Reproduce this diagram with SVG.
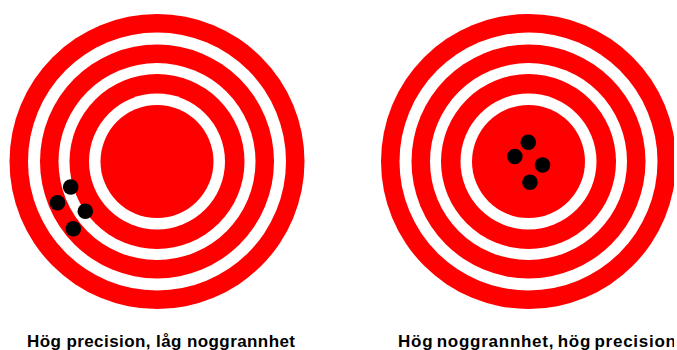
<svg xmlns="http://www.w3.org/2000/svg" width="677" height="350" viewBox="0 0 677 350">
  <style>
    .r { fill: #ff0000; }
    .w { fill: #ffffff; }
    .dot { fill: #000000; }
    .lbl { font-family: "Liberation Sans", Arial, sans-serif; font-weight: bold; font-size: 17px; fill: #000000; }
  </style>
  <defs>
    <g id="target">
      <circle class="r" r="147.5"/>
      <circle class="w" r="129"/>
      <circle class="r" r="117"/>
      <circle class="w" r="98.5"/>
      <circle class="r" r="87.5"/>
      <circle class="w" r="68"/>
      <circle class="r" r="56.5"/>
    </g>
    <clipPath id="clipR">
      <rect x="0" y="0" width="674" height="350"/>
    </clipPath>
  </defs>
  <rect width="677" height="350" fill="#ffffff"/>
  <g id="target-left">
    <use href="#target" x="157" y="161.5"/>
    <circle class="dot" cx="70.7" cy="187" r="7.8"/>
    <circle class="dot" cx="57.5" cy="202.8" r="7.8"/>
    <circle class="dot" cx="85.3" cy="211.3" r="7.8"/>
    <circle class="dot" cx="73.3" cy="228.7" r="7.8"/>
    <text class="lbl" x="27" y="346.5" textLength="268" lengthAdjust="spacing">Hög precision, låg noggrannhet</text>
  </g>
  <g id="target-right" clip-path="url(#clipR)">
    <use href="#target" x="528.5" y="161.5"/>
    <circle class="dot" cx="528.3" cy="142.2" r="7.8"/>
    <circle class="dot" cx="514.8" cy="156.5" r="7.8"/>
    <circle class="dot" cx="542.5" cy="165" r="7.8"/>
    <circle class="dot" cx="530" cy="182.3" r="7.8"/>
    <text class="lbl" x="398" y="346.5" textLength="278" lengthAdjust="spacing" word-spacing="-2">Hög noggrannhet, hög precision</text>
  </g>
</svg>
